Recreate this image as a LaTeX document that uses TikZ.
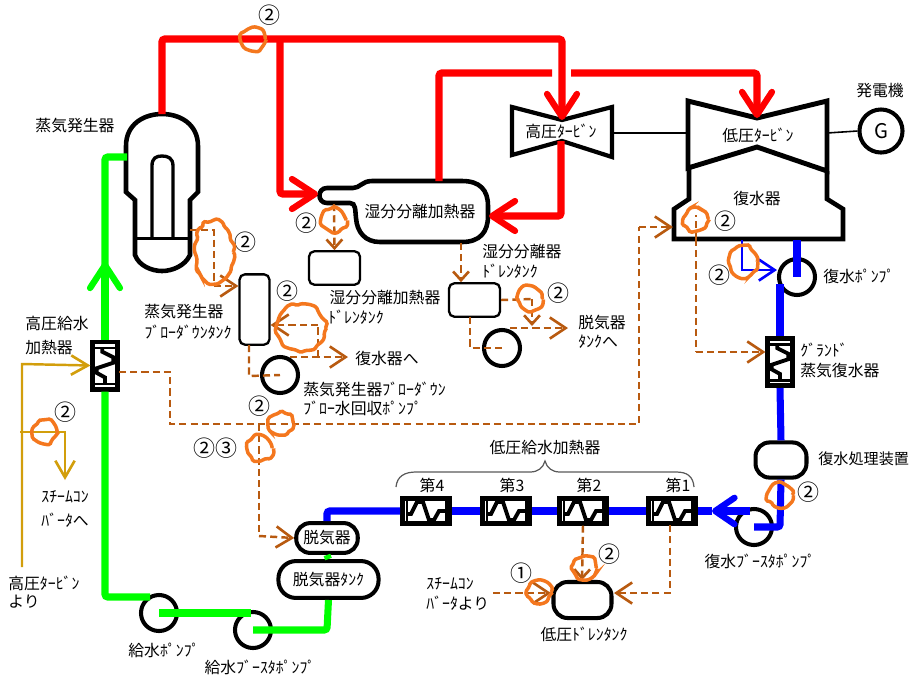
\documentclass[tikz,border=0pt]{standalone}
\usepackage{fontspec}
\setmainfont{Noto Sans CJK JP}
\usetikzlibrary{arrows.meta,decorations.pathmorphing,shapes.geometric}
\definecolor{steamred}{RGB}{255,0,0}
\definecolor{feedgreen}{RGB}{0,255,0}
\definecolor{waterblue}{RGB}{0,0,255}
\definecolor{drainbrown}{RGB}{184,90,16}
\definecolor{bleedgold}{RGB}{210,158,12}
\definecolor{markorange}{RGB}{244,119,30}
\tikzset{
  redpipe/.style={draw=steamred,line width=4pt,rounded corners=1.5pt},
  greenpipe/.style={draw=feedgreen,line width=4pt,rounded corners=1.5pt},
  bluepipe/.style={draw=waterblue,line width=4pt,rounded corners=1.5pt},
  bigtip/.style={-{Straight Barb[length=13pt,width=17pt,line width=3.6pt,round]}},
  drain/.style={draw=drainbrown,line width=1.4pt,dash pattern=on 4pt off 2.4pt},
  draintip/.style={-{Straight Barb[length=9pt,width=12pt,line width=1.5pt]}},
  smalltip/.style={-{Straight Barb[length=5pt,width=9pt,line width=1.5pt]}},
  bleed/.style={draw=bleedgold,line width=1.4pt},
  vessel/.style={draw,line width=2.3pt,rounded corners=6pt,inner sep=0pt},
  thinvessel/.style={draw,line width=1.3pt,rounded corners=3pt,inner sep=0pt},
  pump/.style={circle,draw,line width=2.3pt,inner sep=0pt,minimum size=20.5pt},
  heatbox/.style={draw,line width=2.6pt,fill=white,inner sep=0pt},
  lbl/.style={inner sep=0pt,font=\fontsize{9}{11}\selectfont},
  num/.style={inner sep=0pt,font=\fontsize{12.5}{14}\selectfont},
  blob/.style={ellipse,draw=markorange,line width=2pt,inner sep=0pt,decorate,
    decoration={random steps,segment length=2.6pt,amplitude=1.1pt},rounded corners=0.8pt},
  heatzig/.pic={
    \draw[line width=2.2pt,miter limit=3] (-19,3) -- (-15,3) -- (-9,-9) -- (-3,-9) -- (3,9) -- (8,9) -- (13,0) -- (20,0);
    \draw[line width=1.3pt] (-19,-11) -- (-19,11);
    \draw[line width=1.3pt] (20,-11) -- (20,11);
  }
}
\begin{document}
\begin{tikzpicture}[x=0.02cm,y=-0.02cm]
  \useasboundingbox (0,0) rectangle (910,674);
  % turbines, condenser and steam generator
  \draw[line width=2.4pt,join=miter] (512,107) -- (562,120) -- (612,107) -- (612,157) -- (562,141) -- (512,155) -- cycle;
  \draw[line width=2.8pt] (688,101) -- (757,118) -- (827,101) -- (827,171) -- (757,147) -- (688,168) -- cycle;
  \draw[line width=2.6pt] (689,168) -- (689,199) -- (674,209) -- (674,239) -- (843,239) -- (843,209) -- (827,199) -- (827,171);
  \draw[line width=2.6pt] (126,192) -- (126,146) .. controls (126,124) and (144,114) .. (162,114)
    .. controls (180,114) and (198,124) .. (198,146) -- (198,192) -- (190,200) -- (190,255)
    .. controls (185,266) and (172,271) .. (162,271) .. controls (152,271) and (139,266) .. (135,255) -- (135,200) -- cycle;
  \draw[line width=1.9pt] (152,238) -- (152,166) .. controls (152,158) and (156,156) .. (162,156)
    .. controls (168,156) and (173,158) .. (173,166) -- (173,238);
  \draw[line width=1.7pt] (135,238) -- (190,238);
  % moisture separator
  \draw[line width=2.6pt] (353,188) -- (327,188) .. controls (317,188) and (317,203) .. (327,203) -- (350,203)
    .. controls (356,203) and (355,210) .. (356,218) .. controls (357,232) and (365,242) .. (380,242) -- (462,242)
    .. controls (480,242) and (488,232) .. (488,216) -- (488,206) .. controls (488,190) and (480,181) .. (462,181)
    -- (372,181) .. controls (362,181) and (360,188) .. (353,188) -- cycle;
  % named equipment
  \node[thinvessel,minimum width=29pt,minimum height=19pt] (sepdrain) at (334.5,268) {};
  \node[thinvessel,minimum width=29pt,minimum height=19pt] (msdtank) at (474.5,300) {};
  \node[thinvessel,minimum width=17pt,minimum height=40pt] (sgbtank) at (254.5,309.5) {};
  \node[vessel,minimum width=29pt,minimum height=20pt,rounded corners=8pt] (cptreat) at (781,460) {};
  \node[vessel,minimum width=33pt,minimum height=20.5pt,rounded corners=8pt] (lpdrain) at (582.5,600) {};
  \node[vessel,minimum width=35pt,minimum height=17pt,rounded corners=8pt] (deaer) at (327,538) {\fontsize{9}{11}\selectfont 脱気器};
  \node[vessel,minimum width=57pt,minimum height=21pt,rounded corners=10pt] (datank) at (328.5,579.5) {\fontsize{9}{11}\selectfont 脱気器ﾀﾝｸ};
  \node[pump] (fwpump) at (159,613) {};
  \node[pump] (fwboost) at (253,630) {};
  \node[pump] (sgbpump) at (280,375) {};
  \node[pump] (msdpump) at (502,348) {};
  \node[pump] (cpump) at (797,277) {};
  \node[pump] (cboost) at (754,527) {};
  \node[pump,minimum size=24.5pt] (gen) at (881,131) {\fontsize{11.5}{14}\selectfont G};
  \coordinate (sgtop) at (162,114);
  \coordinate (sgfeed) at (127,157);
  \coordinate (sgblow) at (190,230);
  \coordinate (hpt) at (562,120);
  \coordinate (hpout) at (561,141);
  \coordinate (lpt) at (757,118);
  \coordinate (msnozzle) at (318,194);
  \coordinate (msright) at (489,216);
  \coordinate (mstop) at (439,181);
  \coordinate (cdleft) at (673,227);
  \coordinate (cdbot) at (696,239);
  \coordinate (cpin) at (777,270);
  % heaters
  \node[heatbox,minimum width=14pt,minimum height=27pt] (hpheat) at (105,365.5) {};
  \pic[rotate=-90,scale=0.92] at (105,365.5) {heatzig};
  \node[heatbox,minimum width=14pt,minimum height=27pt] (gland) at (780,362) {};
  \pic[rotate=-90,scale=0.92] at (780,362) {heatzig};
  \foreach \n/\x/\t in {4/426/第4,3/506/第3,2/583/第2,1/672/第1} {
    \node[heatbox,minimum width=27pt,minimum height=14pt] (lp\n) at (\x,511) {};
    \pic at (\x,511) {heatzig};
    \node[lbl] (lbl\n) at (\x+6,485) {\t};
  }
  % steam lines
  \draw[redpipe] (sgtop) -- (162,39) -- (562,39) [bigtip] -- (hpt);
  \draw[redpipe,bigtip] (280,39) -- (280,194) -- (msnozzle);
  \draw[redpipe] (mstop) -- (439,73) -- (552,73);
  \draw[redpipe,bigtip] (571,73) -- (757,73) -- (lpt);
  \draw[redpipe,bigtip] (hpout) -- (561,216) -- (msright);
  % feed water lines
  \draw[greenpipe] (sgfeed) -- (105,157) -- (hpheat.north);
  \draw[greenpipe,bigtip] (hpheat.north) -- (105,262);
  \draw[greenpipe] (hpheat.south) -- (105,597) -- (150,597);
  \draw[greenpipe] (fwpump.center) -- (251,613);
  \draw[greenpipe] (fwboost.center) -- (327,630) -- (datank.south);
  \draw[greenpipe] (deaer.south) -- (datank.north);
  % condensate lines
  \draw[bluepipe] (797,240) -- (cpump.center);
  \draw[bluepipe] (780,284) -- (gland.north);
  \draw[bluepipe] (gland.south) -- (cptreat.north);
  \draw[bluepipe] (cptreat.south) -- (780,527) -- (cboost.center);
  \draw[bluepipe,-{Straight Barb[length=11pt,width=15pt,line width=3.6pt,round]}] (750,511) -- (712,511);
  \draw[bluepipe] (712,511) -- (lp1.east);
  \draw[bluepipe] (lp1.west) -- (lp2.east);
  \draw[bluepipe] (lp2.west) -- (lp3.east);
  \draw[bluepipe] (lp3.west) -- (lp4.east);
  \draw[bluepipe] (lp4.west) -- (327,511) -- (deaer.north);
  \draw[draw=waterblue,line width=1.2pt,draintip] (742,240) -- (742,270) -- (cpin);
  % drains
  \draw[drain,smalltip] (334,204) -- (sepdrain.north);
  \draw[drain,smalltip] (461,243) -- (msdtank.north -| 461,243);
  \draw[drain] (470,317) -- (470,348) -- (msdpump.center);
  \draw[drain] (msdtank.east) -- (532,299);
  \draw[drain,smalltip] (532,299) -- (532,326);
  \draw[drain,draintip] (510,328) -- (568,328);
  \draw[drain] (sgblow) -- (214,230) -- (214,286);
  \draw[drain,draintip] (214,286) -- (sgbtank.west |- 214,286);
  \draw[drain] (249,345) -- (249,376) -- (sgbpump.center);
  \draw[drain] (318,357) -- (318,325);
  \draw[drain,draintip] (318,325) -- (sgbtank.east |- 318,325);
  \draw[drain,draintip] (290,357) -- (348,357);
  \draw[drain] (119,372) -- (170,372) -- (170,424) -- (639,424) -- (639,227);
  \draw[drain,draintip] (639,227) -- (cdleft);
  \draw[drain] (259,424) -- (259,536);
  \draw[drain,draintip] (259,536) -- (deaer.west);
  \draw[drain] (cdbot) -- (696,215);
  \draw[drain] (696,239) -- (696,352);
  \draw[drain,draintip] (696,352) -- (gland.west |- 696,352);
  \draw[drain,smalltip] (lp2.south) -- (582,580);
  \draw[drain,draintip] (670,525) -- (670,593) -- (614,593);
  \draw[drain,draintip] (493,593) -- (551,593);
  % bleed lines
  \draw[bleed,-{Straight Barb[length=9.5pt,width=11pt,line width=1.5pt]}] (22,567) -- (22,364) -- (hpheat.west);
  \draw[bleed,-{Straight Barb[length=9.5pt,width=11pt,line width=1.5pt]}] (20,432) -- (65,432) -- (65,480);
  % shaft
  \draw[line width=0.9pt] (612,133) -- (688,133);
  \draw[line width=0.9pt] (827,133) -- (gen.west);
  \draw[line width=0.7pt,draw=black!65] (396,487) .. controls (397,476) and (405,472) .. (416,472) -- (530,472)
    .. controls (538,472) and (543,468) .. (545,461) .. controls (547,468) and (552,472) .. (560,472)
    -- (676,472) .. controls (687,472) and (693,476) .. (694,487);
  % labels
  \node[lbl] (lblsg) at (75,126) {蒸気発生器};
  \node[lbl] (lblsgb) at (184,312) {蒸気発生器};
  \node[lbl] (lblsgbt) at (188,332) {ﾌﾞﾛｰﾀﾞｳﾝﾀﾝｸ};
  \node[lbl] (lblhpa) at (57,323) {高圧給水};
  \node[lbl] (lblhpb) at (49,347) {加熱器};
  \node[lbl,anchor=west] (lblscout) at (41,497) {ｽﾁｰﾑｺﾝ};
  \node[lbl,anchor=west] (lblscouta) at (41,520) {ﾊﾞｰﾀへ};
  \node[lbl,anchor=west] (lblfromhp) at (8,583) {高圧ﾀｰﾋﾞﾝ};
  \node[lbl,anchor=west] (lblfromhpa) at (8,602) {より};
  \node[lbl] (lblhpt) at (561,131) {高圧ﾀｰﾋﾞﾝ};
  \node[lbl] (lbllpt) at (758,135) {低圧ﾀｰﾋﾞﾝ};
  \node[lbl] (lblgen) at (880,91) {発電機};
  \node[lbl] (lblcd) at (757,198) {復水器};
  \node[lbl] (lblms) at (420,212) {湿分分離加熱器};
  \node[lbl] (lblsepd) at (385,298) {湿分分離加熱器};
  \node[lbl,anchor=west] (lblsepda) at (328,317) {ﾄﾞﾚﾝﾀﾝｸ};
  \node[lbl,anchor=west] (lblmsd) at (482,252) {湿分分離器};
  \node[lbl,anchor=west] (lblmsda) at (482,271) {ﾄﾞﾚﾝﾀﾝｸ};
  \node[lbl,anchor=west] (lbldea) at (578,323) {脱気器};
  \node[lbl,anchor=west] (lbldeaa) at (578,342) {ﾀﾝｸへ};
  \node[lbl,anchor=west] (lblcdto) at (355,358) {復水器へ};
  \node[lbl,anchor=west] (lblsgp) at (303,389) {蒸気発生器ﾌﾞﾛｰﾀﾞｳﾝ};
  \node[lbl,anchor=west] (lblsgpa) at (303,408) {ﾌﾞﾛｰ水回収ﾎﾟﾝﾌﾟ};
  \node[lbl,anchor=west] (lblcp) at (823,276) {復水ﾎﾟﾝﾌﾟ};
  \node[lbl,anchor=west] (lblgl) at (800,350) {ｸﾞﾗﾝﾄﾞ};
  \node[lbl,anchor=west] (lblgla) at (800,371) {蒸気復水器};
  \node[lbl,anchor=west,font=\fontsize{8.6}{11}\selectfont] (lblcpt) at (818,459) {復水処理装置};
  \node[lbl] (lblcb) at (760,561) {復水ﾌﾞｰｽﾀﾎﾟﾝﾌﾟ};
  \node[lbl] (lbllph) at (545,447) {低圧給水加熱器};
  \node[lbl,anchor=west] (lblscin) at (426,584) {ｽﾁｰﾑｺﾝ};
  \node[lbl,anchor=west] (lblscina) at (426,603) {ﾊﾞｰﾀより};
  \node[lbl] (lbllpd) at (584,634) {低圧ﾄﾞﾚﾝﾀﾝｸ};
  \node[lbl] (lblfw) at (164,650) {給水ﾎﾟﾝﾌﾟ};
  \node[lbl] (lblfwb) at (260,667) {給水ﾌﾞｰｽﾀﾎﾟﾝﾌﾟ};
  % marks
  \foreach \n/\x/\y/\t in {a/269/15/②,b/245/242/②,c/306/223/②,d/287/291/②,e/558/293/②,f/725/221/②,g/719/275/②,
      h/259/406/②,i/65/412/②,j/808/492/②,k/609/554/②,l/521/573/①} {
    \node[num] (num\n) at (\x,\y) {\t};
  }
  \node[num] (numm) at (215,448) {②③};
  \pgfmathsetseed{7}
  \foreach \n/\x/\y/\w/\h in {a/253/39/14/13,b/334/220/14/14,c/214/252/22/36,d/301/328/28/27,e/530/299/14/14,f/696/219/14/13,
      g/743/262/16/18,h/281/423/14/13,i/260/448/14/14,j/45/432/14/13,k/780/495/14/14,l/584/568/14/13,m/539/592/14/13} {
    \node[blob,minimum width=\w pt,minimum height=\h pt] (mark\n) at (\x,\y) {};
  }
\end{tikzpicture}
\end{document}
